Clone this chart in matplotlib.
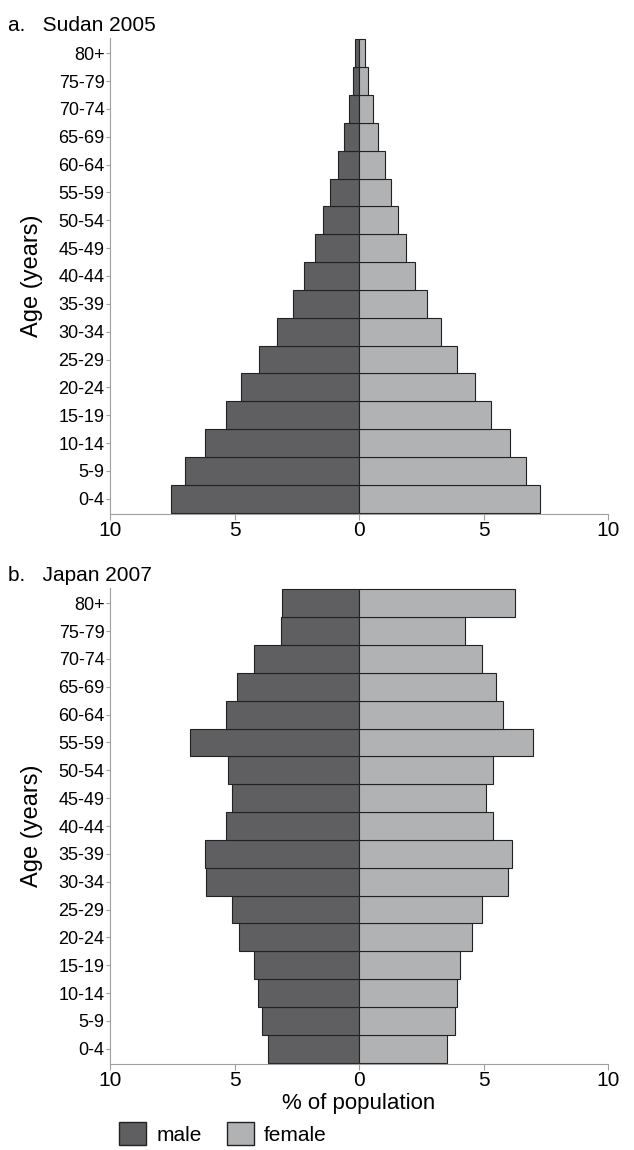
import numpy as np
import matplotlib.pyplot as plt
from matplotlib.patches import Patch

ages = ["0-4", "5-9", "10-14", "15-19", "20-24", "25-29", "30-34", "35-39", "40-44",
        "45-49", "50-54", "55-59", "60-64", "65-69", "70-74", "75-79", "80+"]

sudan_male = [7.55, 7.0, 6.2, 5.35, 4.75, 4.0, 3.3, 2.65, 2.2, 1.75, 1.45, 1.15, 0.85, 0.6, 0.4, 0.24, 0.16]
sudan_female = [7.25, 6.7, 6.05, 5.3, 4.65, 3.95, 3.3, 2.75, 2.25, 1.9, 1.55, 1.3, 1.05, 0.75, 0.55, 0.35, 0.25]

japan_male = [3.65, 3.9, 4.05, 4.2, 4.8, 5.1, 6.15, 6.2, 5.35, 5.1, 5.25, 6.8, 5.35, 4.9, 4.2, 3.15, 3.1]
japan_female = [3.55, 3.85, 3.95, 4.05, 4.55, 4.95, 6.0, 6.15, 5.4, 5.1, 5.4, 7.0, 5.8, 5.5, 4.95, 4.25, 6.25]

male_col = "#5f5f61"
female_col = "#b1b2b4"
spine_col = "#a0a0a0"
fs = 13

plt.rcParams['font.family'] = ['Liberation Sans', 'DejaVu Sans']

fig = plt.figure(figsize=(6.34, 11.5), dpi=100)
ax1 = fig.add_axes([110/634, 1 - 514/1150, 498/634, 476/1150])
ax2 = fig.add_axes([110/634, 1 - 1064/1150, 498/634, 476/1150])

def pyramid(ax, male, female, title):
    y = np.arange(len(ages))
    ax.barh(y, -np.array(male), height=1.0, color=male_col, edgecolor="#222222", linewidth=0.8)
    ax.barh(y, female, height=1.0, color=female_col, edgecolor="#222222", linewidth=0.8)
    ax.set_xlim(-10, 10)
    ax.set_ylim(-0.55, len(ages) - 0.45)
    ax.set_yticks(y)
    ax.set_yticklabels(ages, fontsize=fs)
    ax.set_xticks([-10, -5, 0, 5, 10])
    ax.set_xticklabels(["10", "5", "0", "5", "10"], fontsize=fs + 2)
    for s in ["top", "right"]:
        ax.spines[s].set_visible(False)
    for s in ["left", "bottom"]:
        ax.spines[s].set_color(spine_col)
    ax.tick_params(axis="y", length=3, pad=1, color=spine_col)
    ax.tick_params(axis="x", direction="out", length=4, pad=1, color=spine_col)
    ax.set_ylabel("Age (years)", fontsize=fs + 4)
    ax.yaxis.set_label_coords(-0.135, 0.5)
    ax.text(-0.205, 1.015, title, transform=ax.transAxes, fontsize=fs + 2)

pyramid(ax1, sudan_male, sudan_female, "a.   Sudan 2005")
pyramid(ax2, japan_male, japan_female, "b.   Japan 2007")
ax2.set_xlabel("% of population", fontsize=fs + 3, labelpad=2)

handles = [Patch(facecolor=male_col, edgecolor="#222222", label="male"),
           Patch(facecolor=female_col, edgecolor="#222222", label="female")]
fig.legend(handles=handles, loc="lower left", bbox_to_anchor=(100/634, -0.012), ncol=2,
           frameon=False, fontsize=fs + 2, handlelength=1.3, handleheight=1.3,
           handletextpad=0.5, columnspacing=1.2)

fig.savefig("out.png", dpi=100)
